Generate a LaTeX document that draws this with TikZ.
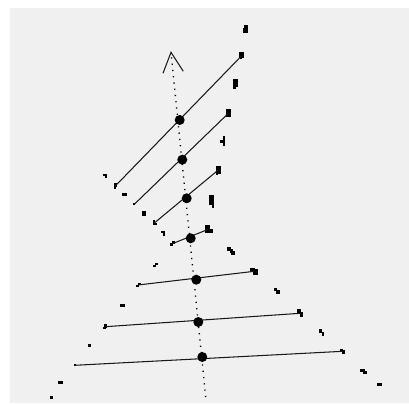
\documentclass[tikz,border=0pt]{standalone}
\definecolor{bg}{HTML}{F0F0F0}
\tikzset{
  mark dot/.style={fill=black,draw=none,inner sep=0pt,outer sep=0pt,minimum width=#1,minimum height=#1,rectangle},
  hub/.style={circle,fill=black,draw=none,inner sep=0pt,outer sep=0pt,minimum size=10pt},
  chord/.style={line width=1.05pt,black!90},
  axis/.style={line width=1.35pt,black,dash pattern=on 1.2pt off 5.1pt},
  head/.style={line width=1.05pt,black!90}
}
% \bl{x}{y}{w}{h}: one block of a blot
\newcommand{\bl}[4]{\fill[black] (#1-#3/2-0.3,#2-#4/2-0.3) rectangle (#1+#3/2+0.3,#2+#4/2+0.3);}
\begin{document}
\begin{tikzpicture}[x=1pt,y=-1pt]
\useasboundingbox (0,0) rectangle (409,404);
\fill[bg] (10,8) rectangle (409,403);
% upper right blots
\bl{246.2}{29}{3}{7}\bl{244.6}{30.5}{2}{4}
\bl{241.7}{55}{4}{5}\bl{241}{58}{2}{2}
\bl{235.6}{83}{4}{8}\bl{234.2}{87.5}{2}{3}
\bl{228.7}{113}{4}{7}
\bl{224}{141}{2}{9}\bl{222.5}{141.5}{5}{2}
\bl{218.3}{170}{4}{7}\bl{217}{173.5}{2}{2}
\bl{211.5}{200}{4}{10}\bl{213}{205.5}{1.6}{4}
\bl{207.5}{228}{4}{5}\bl{209}{231}{7}{3}
% lower right blots
\bl{229}{249}{4}{2.5}\bl{231.5}{251}{3}{3}\bl{233.2}{253}{3.6}{3.5}
\bl{252.5}{269.5}{3.5}{3}\bl{255.5}{272}{5}{4.5}
\bl{275.5}{289.5}{2.5}{3}\bl{278}{292}{4}{3}
\bl{299}{311.5}{4}{3.5}\bl{301.5}{314.5}{2}{4}
\bl{320.5}{331}{3}{2.5}\bl{323}{334}{2}{4}
\bl{341.5}{350}{2.5}{2}\bl{343.5}{352}{3}{2.5}
\bl{362.5}{370.5}{3.5}{2}\bl{365}{372.3}{3}{2.2}
\bl{379.7}{384.7}{4}{2.2}
% upper left blots
\bl{105}{175}{3}{1.8}\bl{106.3}{176.5}{1.6}{3}
\bl{115.5}{185}{2}{3}\bl{115}{187.5}{1.5}{2.5}
\bl{124.7}{194.3}{4}{2}
\bl{134.3}{204.3}{1.6}{1.6}
\bl{144}{213}{4}{4.4}
\bl{154}{222.5}{2}{3.5}\bl{155}{224}{3.5}{2}
\bl{162.5}{232}{3}{1.8}\bl{164}{233.5}{2}{3.5}
\bl{173.5}{242.5}{3}{3}\bl{171.5}{244.5}{2}{3}
% lower left blots
\bl{156.5}{264}{3}{2.2}\bl{154.5}{266}{3}{2.2}
\bl{139.5}{284}{3}{2.2}\bl{137.5}{286}{3}{2.2}
\bl{122.3}{305.7}{4}{2.2}
\bl{105.5}{326}{3}{3}\bl{104.5}{328}{1.5}{2}
\node[mark dot=2.6pt] (d1) at (89.3,345.3) {};
\bl{74.7}{365.3}{1.6}{1.6}
\bl{60.7}{382.3}{4}{2.2}
\node[mark dot=2.6pt] (d2) at (51.3,397.3) {};
% axis
\coordinate (tip) at (171,52.3);
\coordinate (tail) at (205.7,397);
\coordinate (hl) at (163,73.3);
\coordinate (hr) at (183.3,71.3);
\draw[axis] (tail) -- (tip);
\draw[head] (hl) -- (tip) -- (hr);
% chords
\coordinate (l1) at (115.3,186);  \coordinate (r1) at (241.7,55.7);
\coordinate (l2) at (134.3,204.3);\coordinate (r2) at (228.7,113);
\coordinate (l3) at (154.3,223);  \coordinate (r3) at (218.3,170);
\coordinate (l4) at (172.3,243.7);\coordinate (r4) at (208.3,229.3);
\coordinate (l5) at (138,285);    \coordinate (r5) at (254.3,271.3);
\coordinate (l6) at (105.3,326.7);\coordinate (r6) at (300,313.3);
\coordinate (l7) at (74.7,365.3); \coordinate (r7) at (342.7,351.3);
\foreach \i in {1,...,7} {\draw[chord] (l\i) -- (r\i);}
% hubs
\node[hub] (h1) at (179.7,120) {};
\node[hub] (h2) at (182.3,159.7) {};
\node[hub] (h3) at (186.7,198.3) {};
\node[hub] (h4) at (190.7,238.3) {};
\node[hub] (h5) at (196.3,279.7) {};
\node[hub] (h6) at (198.3,322) {};
\node[hub] (h7) at (202.3,357) {};
\end{tikzpicture}
\end{document}
